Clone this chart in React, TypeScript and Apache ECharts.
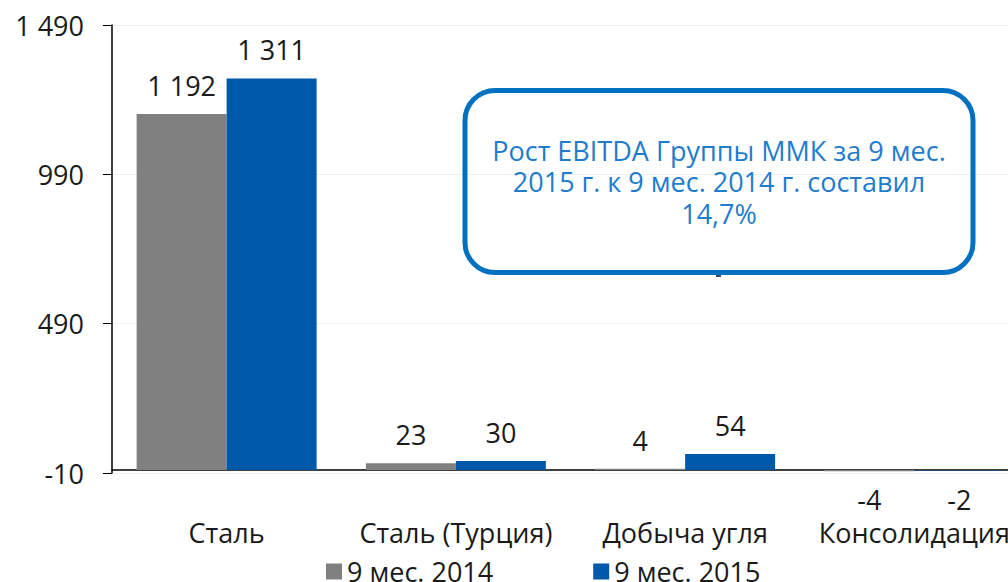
import React, { useEffect, useRef } from "react";
import * as echarts from "echarts";

const categories = ["Сталь", "Сталь (Турция)", "Добыча угля", "Консолидация"];
const series2014 = [1192, 23, 4, -4];
const series2015 = [1311, 30, 54, -2];
const seriesNames = ["9 мес. 2014", "9 мес. 2015"];
const yTicks = [-10, 490, 990, 1490];
const calloutLines = [
  "Рост EBITDA Группы ММК за 9 мес.",
  "2015 г. к 9 мес. 2014 г. составил",
  "14,7%",
];

const FONT = "'Open Sans', 'Noto Sans', sans-serif";
const TEXT = "#1a1a1a";
const FS = 27;

function fmt(v: number): string {
  const s = String(Math.abs(v)).replace(/\B(?=(\d{3})+(?!\d))/g, " ");
  return (v < 0 ? "-" : "") + s;
}

function makeData(values: number[]) {
  return values.map((v) => ({
    value: v,
    label: { position: v < 0 ? "bottom" : "top" },
  }));
}

export default function App() {
  const ref = useRef<HTMLDivElement>(null);
  useEffect(() => {
    document.body.style.margin = "0";
    if (!ref.current) return;
    const chart = echarts.init(ref.current, null, { renderer: "svg" });
    const labelCommon = {
      show: true,
      distance: 15,
      fontSize: FS,
      fontFamily: FONT,
      color: TEXT,
      formatter: (p: any) => fmt(p.value),
    };
    const calloutTexts = calloutLines.map((t, i) => ({
      type: "text",
      x: 719,
      y: 150 + i * 31.5,
      style: {
        text: t,
        fill: "#1f7ccc",
        fontSize: FS,
        fontFamily: FONT,
        align: "center",
        verticalAlign: "middle",
      },
      z: 101,
    }));
    chart.setOption({
      animation: false,
      textStyle: { fontFamily: FONT },
      grid: { left: 112, top: 25, width: 917, height: 448 },
      legend: {
        left: 326,
        top: 558,
        padding: 0,
        icon: "rect",
        itemWidth: 16,
        itemHeight: 16,
        itemGap: 100,
        textStyle: { fontSize: FS, color: TEXT, fontFamily: FONT },
        data: seriesNames,
      },
      xAxis: {
        type: "category",
        data: categories,
        axisLine: { onZero: true, lineStyle: { color: "#000", width: 1.5 } },
        axisTick: { show: false },
        axisLabel: { fontSize: FS, color: TEXT, fontFamily: FONT, margin: 46, interval: 0 },
        splitLine: { show: false },
      },
      yAxis: {
        type: "value",
        min: -10,
        max: 1490,
        axisLine: { show: true, lineStyle: { color: "#000", width: 1.5 } },
        axisTick: { show: true, length: 9, lineStyle: { color: "#000" }, customValues: yTicks },
        axisLabel: {
          fontSize: FS,
          color: TEXT,
          fontFamily: FONT,
          margin: 28,
          customValues: yTicks,
          formatter: (v: number) => fmt(v),
        },
        splitLine: { show: true, lineStyle: { color: "#f0f0f0", width: 1 } },
      },
      series: [
        {
          name: seriesNames[0],
          type: "bar",
          data: makeData(series2014),
          barWidth: 90,
          barGap: "0%",
          itemStyle: { color: "#808080" },
          label: labelCommon,
        },
        {
          name: seriesNames[1],
          type: "bar",
          data: makeData(series2015),
          barWidth: 90,
          barGap: "0%",
          itemStyle: { color: "#0058a8" },
          label: labelCommon,
        },
      ],
      graphic: [
        {
          type: "rect",
          shape: { x: 465, y: 90.5, width: 508, height: 182, r: 30 },
          style: { fill: "transparent", stroke: "#0070c0", lineWidth: 5 },
          z: 100,
        },
        {
          type: "rect",
          shape: { x: 716, y: 275, width: 5, height: 2 },
          style: { fill: "#2a4a78" },
          z: 100,
        },
        ...calloutTexts,
      ],
    });
    return () => chart.dispose();
  }, []);
  return (
    <div style={{ width: 1008, height: 582, overflow: "hidden", position: "relative" }}>
      <div ref={ref} style={{ width: 1030, height: 582 }} />
    </div>
  );
}
